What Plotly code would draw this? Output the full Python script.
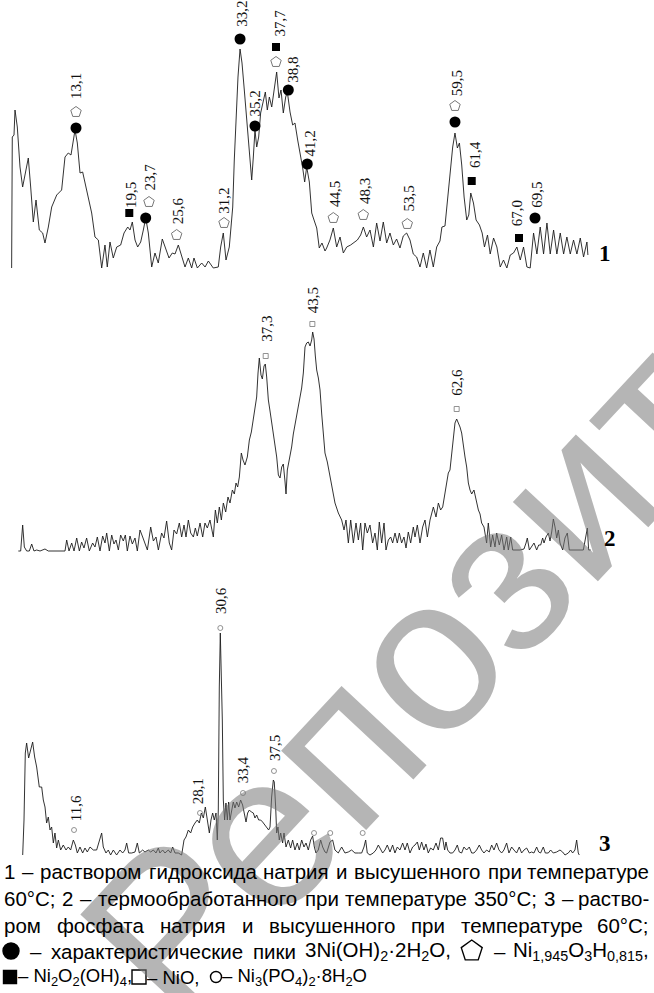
import re
import plotly.graph_objects as go

W, H = 654, 993

# ---------------- data: pattern 1 (2theta, deg ; intensity, a.u.) ----------------
theta_1 = [
    5.51, 5.59, 5.80, 5.92, 6.20, 6.53, 6.85, 7.54, 7.83, 8.15,
    8.48, 8.88, 9.29, 9.57, 9.98, 10.39, 11.00, 11.60, 12.01, 12.41,
    12.74, 13.23, 13.51, 13.84, 14.16, 14.57, 14.85, 15.26, 15.66, 16.07,
    16.48, 16.88, 17.16, 17.49, 17.89, 18.31, 18.79, 19.20, 19.65, 19.93,
    20.21, 20.54, 20.86, 21.23, 21.55, 21.84, 22.16, 22.57, 22.97, 23.37,
    23.86, 24.28, 24.68, 25.08, 25.41, 25.81, 26.23, 26.63, 27.03, 27.44,
    27.72, 28.13, 28.66, 29.07, 29.47, 30.07, 30.68, 30.97, 31.29, 31.62,
    32.02, 32.44, 32.63, 32.84, 33.08, 33.33, 33.57, 33.85, 34.14, 34.38,
    34.54, 34.75, 34.95, 35.15, 35.36, 35.60, 35.84, 36.16, 36.41, 36.65,
    36.90, 37.19, 37.47, 37.79, 38.07, 38.32, 38.60, 38.89, 39.09, 39.42,
    39.74, 40.02, 40.35, 40.63, 40.96, 41.20, 41.45, 41.77, 42.06, 42.34,
    42.67, 42.98, 43.31, 43.68, 43.88, 44.28, 44.69, 45.10, 45.51, 45.91,
    46.32, 46.80, 47.21, 47.62, 48.02, 48.35, 48.75, 49.16, 49.57, 49.97,
    50.38, 50.78, 51.19, 51.59, 52.00, 52.40, 52.81, 53.21, 53.62, 54.03,
    54.43, 54.84, 55.25, 55.65, 56.06, 56.46, 56.87, 57.28, 57.68, 57.92,
    58.29, 58.58, 58.90, 59.23, 59.51, 59.80, 60.05, 60.33, 60.62, 60.94,
    61.19, 61.43, 61.76, 62.08, 62.49, 62.82, 63.10, 63.47, 63.80, 64.21,
    64.61, 65.02, 65.42, 65.83, 66.24, 66.64, 67.05, 67.46, 67.86, 68.27,
    68.67, 69.08, 69.49, 69.89, 70.30, 70.71, 71.11, 71.52, 71.92, 72.33,
    72.74, 73.14, 73.55, 73.95, 74.36, 74.77, 75.17, 75.58, 75.70,
]
intensity_1 = [
    0, 131, 133, 158, 141, 101, 81, 110, 81, 46,
    68, 38, 35, 25, 41, 61, 73, 78, 111, 115,
    113, 138, 125, 95, 96, 81, 71, 55, 31, 28,
    0, 23, 1, 26, 10, 21, 23, 35, 41, 38,
    46, 28, 21, 26, 38, 50, 35, 1, 15, 5,
    29, 20, 10, 15, 14, 23, 11, 1, 10, 0,
    10, 0, 5, 1, 7, 0, 1, 21, 35, 8,
    21, 61, 108, 151, 191, 219, 205, 178, 148, 128,
    111, 88, 111, 138, 121, 131, 155, 168, 176, 158,
    171, 161, 180, 196, 170, 178, 155, 171, 176, 156,
    143, 145, 128, 116, 100, 86, 101, 86, 55, 48,
    40, 20, 25, 17, 20, 28, 40, 21, 31, 15,
    21, 23, 26, 28, 33, 41, 31, 38, 21, 45,
    27, 46, 25, 35, 23, 29, 20, 32, 35, 28,
    14, 11, 1, 15, 0, 18, 1, 21, 27, 41,
    42, 68, 95, 121, 135, 120, 125, 103, 71, 48,
    53, 75, 65, 48, 43, 35, 21, 33, 14, 30,
    21, 1, 8, 0, 13, 15, 21, 8, 21, 1,
    0, 35, 14, 41, 14, 45, 14, 38, 14, 35,
    14, 31, 14, 28, 14, 30, 11, 26, 13,
]

# ---------------- data: pattern 2 ----------------
theta_2 = [
    4.80, 5.11, 5.37, 5.59, 5.90, 6.25, 6.56, 6.86, 7.22, 7.66,
    8.31, 8.75, 10.95, 11.17, 11.48, 11.83, 12.14, 12.49, 12.84, 13.14,
    13.45, 13.80, 14.15, 14.59, 14.90, 15.21, 15.56, 15.91, 16.22, 16.44,
    16.79, 17.10, 17.40, 17.67, 17.98, 18.28, 18.63, 18.90, 19.16, 19.51,
    19.82, 20.17, 20.48, 20.83, 21.18, 21.49, 21.80, 22.24, 22.59, 22.94,
    23.25, 23.68, 23.99, 24.34, 24.69, 25.00, 25.31, 25.66, 26.01, 26.32,
    26.63, 26.89, 27.20, 27.51, 27.86, 28.12, 28.38, 28.74, 29.09, 29.39,
    29.70, 30.05, 30.32, 30.49, 30.76, 31.02, 31.28, 31.55, 31.81, 32.12,
    32.42, 32.69, 33.00, 33.26, 33.48, 33.70, 33.92, 34.18, 34.40, 34.66,
    34.97, 35.24, 35.50, 35.76, 35.98, 36.20, 36.38, 36.55, 36.77, 36.95,
    37.17, 37.34, 37.52, 37.74, 37.96, 38.18, 38.40, 38.62, 38.84, 39.06,
    39.28, 39.50, 39.71, 39.94, 40.07, 40.24, 40.42, 40.59, 40.81, 41.03,
    41.25, 41.47, 41.69, 41.91, 42.13, 42.35, 42.57, 42.79, 43.01, 43.23,
    43.45, 43.58, 43.76, 43.93, 44.11, 44.33, 44.55, 44.77, 44.99, 45.20,
    45.51, 45.86, 46.21, 46.52, 46.96, 47.40, 47.71, 47.97, 48.28, 48.59,
    48.94, 49.29, 49.60, 49.90, 50.17, 50.47, 50.78, 51.13, 51.48, 51.79,
    52.10, 52.36, 52.67, 52.98, 53.24, 53.55, 53.86, 54.12, 54.43, 54.73,
    55.00, 55.30, 55.61, 55.88, 56.18, 56.49, 56.84, 57.06, 57.37, 57.72,
    58.07, 58.38, 58.69, 59.04, 59.48, 59.83, 60.14, 60.44, 60.71, 61.01,
    61.23, 61.45, 61.67, 61.89, 62.11, 62.33, 62.55, 62.77, 62.99, 63.21,
    63.43, 63.65, 63.87, 64.09, 64.31, 64.53, 64.83, 65.10, 65.41, 65.63,
    65.84, 66.15, 66.50, 66.72, 67.03, 67.29, 67.60, 67.82, 68.17, 68.48,
    68.79, 69.14, 69.36, 69.67, 69.93, 70.89, 71.42, 71.69, 71.86, 72.13,
    72.43, 72.74, 73.09, 73.36, 73.62, 73.88, 74.06, 74.32, 74.63, 74.85,
    75.07, 75.29, 75.51, 75.73, 75.95, 76.17, 76.52, 76.82, 77.13, 77.39,
    79.24, 79.55, 79.77, 79.94, 80.21,
]
intensity_2 = [
    0, 0, 26, 4, 0, 0, 7, 0, 1, 0,
    2, 0, 0, 11, 0, 8, 0, 13, 0, 9,
    3, 13, 0, 8, 4, 14, 0, 15, 8, 18,
    0, 16, 7, 11, 1, 16, 10, 16, 0, 15,
    7, 13, 0, 21, 14, 7, 1, 24, 10, 14,
    1, 18, 13, 30, 8, 1, 21, 17, 28, 14,
    26, 14, 31, 18, 14, 23, 15, 28, 14, 28,
    23, 31, 18, 14, 41, 28, 44, 31, 48, 39,
    54, 48, 61, 57, 68, 64, 74, 98, 91, 86,
    94, 111, 119, 131, 141, 154, 178, 193, 176, 172,
    185, 187, 174, 151, 140, 128, 114, 106, 94, 76,
    73, 84, 87, 69, 57, 81, 89, 93, 104, 117,
    127, 137, 147, 156, 163, 178, 204, 208, 209, 205,
    211, 219, 212, 195, 181, 173, 161, 137, 117, 98,
    89, 74, 58, 48, 38, 31, 21, 31, 8, 31,
    8, 28, 11, 28, 1, 28, 18, 26, 8, 18,
    1, 29, 8, 28, 1, 11, 14, 8, 18, 8,
    18, 8, 14, 3, 19, 8, 24, 14, 26, 8,
    24, 31, 14, 31, 44, 34, 48, 41, 44, 58,
    71, 78, 81, 98, 114, 128, 132, 128, 124, 118,
    104, 94, 84, 68, 61, 57, 61, 51, 41, 37,
    28, 24, 8, 28, 4, 16, 4, 18, 6, 16,
    1, 14, 1, 14, 1, 1, 2, 8, 13, 1,
    4, 8, 1, 6, 6, 13, 8, 14, 18, 10,
    19, 32, 24, 13, 21, 8, 1, 13, 18, 1,
    1, 14, 23, 1, 1,
]

# ---------------- data: pattern 3 ----------------
theta_3 = [
    4.96, 5.13, 5.30, 5.47, 5.73, 5.99, 6.25, 6.51, 6.77, 7.11,
    7.42, 7.63, 7.85, 8.06, 8.28, 8.50, 8.71, 8.93, 9.14, 9.36,
    9.58, 9.88, 10.22, 10.57, 10.87, 11.17, 11.52, 11.78, 12.04, 12.38,
    12.73, 13.03, 13.33, 13.68, 14.11, 14.54, 14.89, 15.19, 15.40, 15.75,
    16.05, 16.35, 16.70, 17.13, 17.56, 17.91, 18.21, 18.43, 18.69, 19.08,
    19.51, 19.81, 20.07, 20.50, 20.80, 21.23, 21.54, 21.88, 22.23, 22.53,
    22.73, 23.09, 23.39, 23.82, 24.13, 24.39, 24.69, 25.12, 25.55, 25.86,
    26.11, 26.42, 26.72, 26.98, 27.28, 27.58, 27.84, 28.10, 28.36, 28.62,
    28.88, 29.14, 29.35, 29.57, 29.78, 30.00, 30.17, 30.30, 30.43, 30.56,
    30.82, 30.95, 31.12, 31.29, 31.47, 31.64, 31.81, 32.03, 32.24, 32.46,
    32.68, 32.94, 33.19, 33.45, 33.67, 33.89, 34.10, 34.32, 34.58, 34.84,
    35.05, 35.27, 35.53, 35.79, 36.04, 36.30, 36.56, 36.82, 37.00, 37.21,
    37.43, 37.55, 37.73, 37.86, 38.03, 38.20, 38.38, 38.63, 38.81, 39.07,
    39.37, 39.67, 39.93, 40.23, 40.53, 40.79, 41.10, 41.40, 41.66, 41.96,
    42.26, 42.52, 42.74, 42.95, 43.25, 43.56, 43.82, 44.12, 44.33, 44.77,
    45.11, 45.41, 45.84, 46.28, 46.71, 47.14, 47.57, 48.00, 48.44, 48.87,
    49.17, 49.39, 49.60, 49.95, 50.38, 50.72, 51.03, 51.33, 51.59, 51.89,
    52.19, 52.54, 52.88, 53.18, 53.49, 53.83, 54.18, 54.48, 54.78, 55.13,
    55.47, 55.78, 56.08, 56.34, 56.64, 56.94, 57.20, 57.50, 57.80, 58.15,
    58.50, 58.80, 59.10, 59.36, 59.62, 59.79, 60.01, 60.31, 60.65, 60.96,
    61.26, 61.52, 61.82, 62.12, 62.47, 62.81, 63.12, 63.42, 63.76, 64.11,
    64.41, 64.71, 65.06, 65.40, 65.71, 66.01, 66.35, 66.66, 67.00, 67.30,
    67.65, 67.95, 68.30, 68.60, 68.94, 69.29, 69.59, 69.90, 70.24, 70.59,
    70.89, 71.19, 71.54, 71.80, 72.05, 72.40, 72.66, 73.05, 73.35, 73.69,
    74.13, 74.56, 74.90, 75.21, 75.64, 75.94, 76.20, 76.50, 76.72, 76.93,
    77.06,
]
intensity_3 = [
    0, 35, 102, 112, 97, 105, 113, 98, 88, 68,
    68, 55, 48, 32, 38, 25, 28, 12, 22, 7,
    15, 5, 10, 5, 8, 5, 15, 10, 2, 8,
    2, 7, 3, 8, 5, 5, 13, 22, 8, 2,
    5, 0, 5, 0, 5, 2, 5, 12, 2, 2,
    3, 12, 2, 5, 3, 5, 3, 5, 2, 7,
    2, 5, 2, 5, 2, 8, 2, 2, 0, 15,
    18, 25, 22, 28, 32, 35, 32, 42, 37, 48,
    35, 22, 35, 42, 35, 42, 15, 45, 168, 222,
    135, 55, 35, 52, 35, 53, 35, 45, 53, 47,
    53, 48, 55, 50, 42, 33, 42, 45, 43, 42,
    37, 40, 35, 35, 33, 30, 27, 25, 28, 58,
    75, 73, 48, 22, 28, 15, 22, 12, 22, 8,
    15, 7, 15, 5, 12, 5, 15, 8, 12, 5,
    15, 19, 8, 2, 5, 15, 8, 3, 2, 13,
    15, 5, 2, 8, 2, 3, 5, 2, 2, 2,
    8, 15, 2, 0, 2, 5, 10, 5, 2, 5,
    10, 3, 10, 2, 8, 5, 12, 5, 12, 2,
    8, 10, 13, 5, 13, 5, 11, 2, 7, 5,
    12, 5, 17, 17, 5, 13, 5, 2, 2, 5,
    10, 3, 2, 8, 5, 8, 2, 2, 5, 10,
    5, 2, 5, 3, 10, 5, 12, 5, 2, 5,
    12, 2, 8, 5, 2, 8, 2, 5, 7, 2,
    3, 2, 8, 3, 2, 8, 2, 2, 5, 2,
    3, 5, 3, 0, 2, 5, 2, 5, 15, 2,
    0,
]

# ---------------- peak markers / labels ----------------
p1_circle_theta = [13.35, 21.84, 33.33, 35.15, 39.21, 41.52, 59.51, 69.26]
p1_circle_int = [140, 50, 229, 142, 178, 104, 146, 50]
p1_pent_theta = [13.35, 22.24, 25.61, 31.38, 37.71, 44.69, 48.34, 53.70, 59.51]
p1_pent_int = [156, 66, 33, 45, 206, 50, 53, 44, 162]
p1_square_theta = [19.84, 37.71, 61.55, 67.31]
p1_square_int = [55, 221, 87, 30]
p1_labels = ["13,1", "19,5", "23,7", "25,6", "31,2", "33,2", "35,2", "37,7", "38,8",
             "41,2", "44,5", "48,3", "53,5", "59,5", "61,4", "67,0", "69,5"]
p1_label_theta = [13.35, 20.05, 22.36, 25.74, 31.29, 33.53, 35.15, 38.08, 39.74,
                  41.85, 44.89, 48.55, 53.79, 59.72, 61.95, 67.03, 69.46]
p1_label_int = [182, 73, 91.5, 57.5, 67.5, 254, 164.5, 244.5, 198,
                124.5, 74, 77, 69.5, 184.5, 113, 54.5, 73]

p2_sq_theta = [37.39, 43.54, 62.55]
p2_sq_int = [195, 227, 142]
p2_labels = ["37,3", "43,5", "62,6"]
p2_label_theta = [37.52, 43.67, 62.55]
p2_label_int = [222, 251, 169]

p3_circ_theta = [11.61, 27.93, 30.56, 33.50, 37.51, 42.70, 44.80, 49.00]
p3_circ_int = [25, 42, 227, 62, 84, 22, 22, 22]
p3_labels = ["11,6", "28,1", "30,6", "33,4", "37,5"]
p3_label_theta = [11.86, 27.71, 30.65, 33.54, 37.64]
p3_label_int = [46.7, 64, 254, 85, 107]

curve_names = ["1", "2", "3"]

caption_lines = [
    "1 – раствором гидроксида натрия и высушенного при температуре",
    "60°C; 2 – термообработанного при температуре 350°C; 3 – раство-",
    "ром фосфата натрия и высушенного при температуре 60°C;",
]
legend_line4 = ["–", "характеристические", "пики", "3Ni(OH)<sub>2</sub>·2H<sub>2</sub>O,",
                "–", "Ni<sub>1,945</sub>O<sub>3</sub>H<sub>0,815</sub>,"]
legend_line5 = ["– Ni<sub>2</sub>O<sub>2</sub>(OH)<sub>4</sub>,", "– NiO,",
                "– Ni<sub>3</sub>(PO<sub>4</sub>)<sub>2</sub>·8H<sub>2</sub>O"]
watermark = "Репозиторий"

# ---------------- layout geometry ----------------
panels = [
    dict(xr=[4.093, 83.75], band=(0, 280), base=268),
    dict(xr=[2.385, 88.55], band=(280, 570), base=551),
    dict(xr=[2.021, 86.74], band=(570, 860), base=855),
]

fig = go.Figure()
layout = dict(width=W, height=H, margin=dict(l=0, r=0, t=0, b=0, pad=0),
              paper_bgcolor="white", plot_bgcolor="rgba(0,0,0,0)", showlegend=False)

for i, p in enumerate(panels, start=1):
    top, bot = p["band"]
    sfx = "" if i == 1 else str(i)
    layout["xaxis" + sfx] = dict(domain=[0, 1], range=p["xr"], visible=False,
                                 fixedrange=True, anchor="y" + sfx)
    layout["yaxis" + sfx] = dict(domain=[1 - bot / H, 1 - top / H],
                                 range=[p["base"] - bot, p["base"] - top],
                                 visible=False, fixedrange=True, anchor="x" + sfx)
layout["xaxis4"] = dict(domain=[0, 1], range=[0, W], visible=False, fixedrange=True, anchor="y4")
layout["yaxis4"] = dict(domain=[0, 1], range=[H, 0], visible=False, fixedrange=True, anchor="x4")

LINE = dict(color="#1c1c1c", width=0.9)
series = [(theta_1, intensity_1), (theta_2, intensity_2), (theta_3, intensity_3)]
for i, (tx, iy) in enumerate(series, start=1):
    sfx = "" if i == 1 else str(i)
    fig.add_trace(go.Scatter(x=tx, y=iy, mode="lines", line=LINE,
                             xaxis="x" + sfx, yaxis="y" + sfx, hoverinfo="skip"))

def add_markers(x, y, sfx, symbol, size, color, lw=1.0, lc=None):
    fig.add_trace(go.Scatter(x=x, y=y, mode="markers", xaxis="x" + sfx, yaxis="y" + sfx,
                             marker=dict(symbol=symbol, size=size, color=color,
                                         line=dict(width=lw, color=lc or color)),
                             hoverinfo="skip"))

add_markers(p1_circle_theta, p1_circle_int, "", "circle", 11, "black", 0)
add_markers(p1_pent_theta, p1_pent_int, "", "pentagon-open", 11, "#777777", 1.0)
add_markers(p1_square_theta, p1_square_int, "", "square", 8, "black", 0)
add_markers(p2_sq_theta, p2_sq_int, "2", "square-open", 5, "#777777", 0.8)
add_markers(p3_circ_theta, p3_circ_int, "3", "circle-open", 5, "#777777", 0.8)

annotations = []

# watermark (first, so other texts are drawn above it)
annotations.append(dict(x=570, y=500, xref="x4", yref="y4", text=watermark,
                        textangle=-47, showarrow=False, xanchor="center", yanchor="middle",
                        font=dict(family="Liberation Sans, Arial, sans-serif", size=220,
                                  color="rgba(120,120,120,0.55)")))

LBL_FONT = dict(family="Liberation Serif, Times New Roman, serif", size=15, color="#111111")
for labels, xs, ys, sfx in [(p1_labels, p1_label_theta, p1_label_int, ""),
                            (p2_labels, p2_label_theta, p2_label_int, "2"),
                            (p3_labels, p3_label_theta, p3_label_int, "3")]:
    for t, x, y in zip(labels, xs, ys):
        annotations.append(dict(x=x, y=y, xref="x" + sfx, yref="y" + sfx, text=t,
                                textangle=-90, showarrow=False, font=LBL_FONT,
                                xanchor="center", yanchor="middle"))

for name, (px, py) in zip(curve_names, [(605, 253), (610, 538), (605, 843)]):
    annotations.append(dict(x=px, y=py, xref="x4", yref="y4", text="<b>%s</b>" % name,
                            showarrow=False, xanchor="center", yanchor="middle",
                            font=dict(family="Liberation Serif, Times New Roman, serif",
                                      size=23, color="black")))

# ---------------- caption with justified lines ----------------
CW = {' ': .278, '–': .556, '-': .333, ',': .278, ';': .278, '·': .333, '°': .4,
      '(': .333, ')': .333, 'N': .722, 'i': .222, 'O': .778, 'H': .722, 'P': .667, 'C': .722,
      'а': .556, 'б': .573, 'в': .531, 'г': .365, 'д': .583, 'е': .556, 'ж': .669, 'з': .458,
      'и': .559, 'й': .559, 'к': .438, 'л': .583, 'м': .688, 'н': .552, 'о': .556, 'п': .542,
      'р': .556, 'с': .5, 'т': .458, 'у': .5, 'ф': .823, 'х': .5, 'ц': .573, 'ч': .521,
      'ш': .802, 'щ': .823, 'ъ': .625, 'ы': .719, 'ь': .521, 'э': .51, 'ю': .75, 'я': .542}
CAP_SIZE = 20.5
CAP_FONT = dict(family="Liberation Sans, Arial, sans-serif", size=CAP_SIZE, color="black")

def text_width(s, size=CAP_SIZE):
    total, scale = 0.0, 1.0
    for part in re.split(r"(<sub>|</sub>)", s):
        if part == "<sub>":
            scale = 0.7
            continue
        if part == "</sub>":
            scale = 1.0
            continue
        for ch in part:
            total += CW.get(ch, .556) * scale
    return total * size

LEFT, RIGHT = 3, 650
line_y = [871, 898, 925, 951, 977]

def justify(tokens, y):
    widths = [text_width(t[1]) if t[0] == "t" else t[2] for t in tokens]
    gap = (RIGHT - LEFT - sum(widths)) / (len(tokens) - 1)
    x = LEFT
    for k, (tok, w) in enumerate(zip(tokens, widths)):
        if tok[0] == "t":
            last = k == len(tokens) - 1
            annotations.append(dict(x=RIGHT if last else x, y=y, xref="x4", yref="y4",
                                    text=tok[1], showarrow=False, borderpad=0,
                                    xanchor="right" if last else "left", yanchor="middle",
                                    font=CAP_FONT))
        else:
            fig.add_trace(go.Scatter(x=[x + w / 2], y=[y], mode="markers", xaxis="x4", yaxis="y4",
                                     marker=dict(symbol=tok[1], size=tok[3], color="black",
                                                 line=dict(width=1.4, color="black")),
                                     hoverinfo="skip"))
        x += w + gap

for line, y in zip(caption_lines, line_y[:3]):
    justify([("t", w) for w in line.split(" ")], y)

tok4 = [("m", "circle", 16, 16)] + [("t", legend_line4[0]), ("t", legend_line4[1]),
        ("t", legend_line4[2]), ("t", legend_line4[3]), ("m", "pentagon-open", 24, 22),
        ("t", legend_line4[4]), ("t", legend_line4[5])]
justify(tok4, line_y[3])

y5 = line_y[4]
glyphs5 = [("square", 13, 10, 17), ("square-open", 14, 139, 146), ("circle-open", 11, 216, 221)]
for (sym, sz, gx, tx), txt in zip(glyphs5, legend_line5):
    fig.add_trace(go.Scatter(x=[gx], y=[y5], mode="markers", xaxis="x4", yaxis="y4",
                             marker=dict(symbol=sym, size=sz, color="black",
                                         line=dict(width=1.4, color="black")),
                             hoverinfo="skip"))
    annotations.append(dict(x=tx, y=y5, xref="x4", yref="y4", text=txt, showarrow=False,
                            borderpad=0, xanchor="left", yanchor="middle",
                            font=dict(CAP_FONT, size=18.5)))

layout["annotations"] = annotations
fig.update_layout(**layout)
fig.write_html("out.html", config={"displayModeBar": False, "staticPlot": True},
               post_script="document.body.style.margin='0px';"
                           "document.body.style.padding='0px';"
                           "document.body.style.overflow='hidden';")
